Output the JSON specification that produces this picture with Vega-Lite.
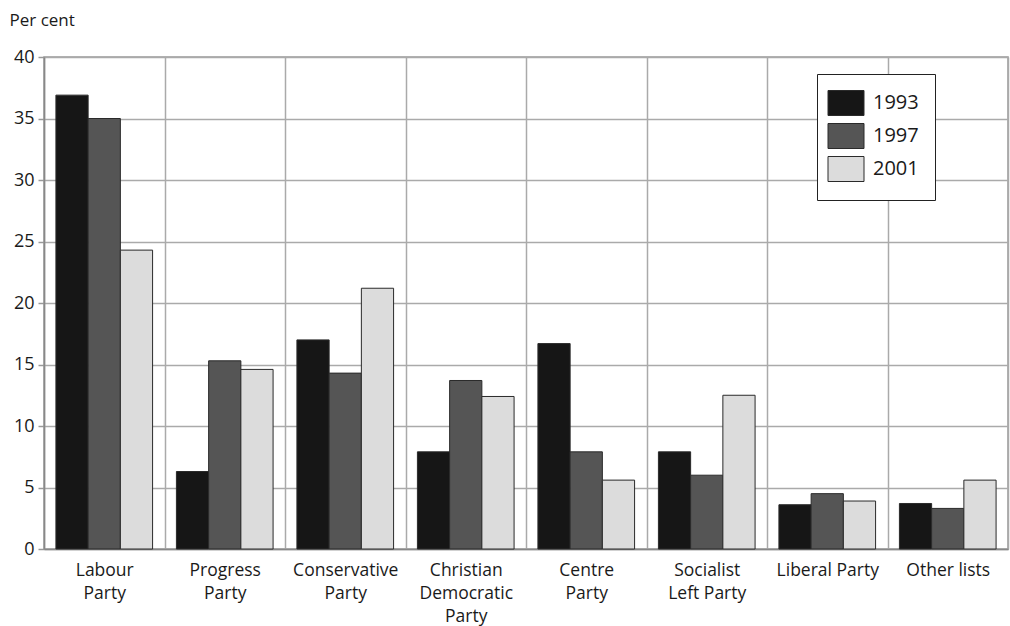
{
  "$schema": "https://vega.github.io/schema/vega-lite/v6.json",
  "autosize": "none",
  "width": 964,
  "height": 492,
  "padding": {"left": 44, "top": 57, "right": 2, "bottom": 77},
  "background": "white",
  "config": {
    "font": "Open Sans",
    "view": {"stroke": "#999999", "strokeWidth": 1.5}
  },
  "data": {
    "values": [
      {"party": "Labour Party", "year": "1993", "pct": 36.9},
      {"party": "Labour Party", "year": "1997", "pct": 35.0},
      {"party": "Labour Party", "year": "2001", "pct": 24.3},
      {"party": "Progress Party", "year": "1993", "pct": 6.3},
      {"party": "Progress Party", "year": "1997", "pct": 15.3},
      {"party": "Progress Party", "year": "2001", "pct": 14.6},
      {"party": "Conservative Party", "year": "1993", "pct": 17.0},
      {"party": "Conservative Party", "year": "1997", "pct": 14.3},
      {"party": "Conservative Party", "year": "2001", "pct": 21.2},
      {"party": "Christian Democratic Party", "year": "1993", "pct": 7.9},
      {"party": "Christian Democratic Party", "year": "1997", "pct": 13.7},
      {"party": "Christian Democratic Party", "year": "2001", "pct": 12.4},
      {"party": "Centre Party", "year": "1993", "pct": 16.7},
      {"party": "Centre Party", "year": "1997", "pct": 7.9},
      {"party": "Centre Party", "year": "2001", "pct": 5.6},
      {"party": "Socialist Left Party", "year": "1993", "pct": 7.9},
      {"party": "Socialist Left Party", "year": "1997", "pct": 6.0},
      {"party": "Socialist Left Party", "year": "2001", "pct": 12.5},
      {"party": "Liberal Party", "year": "1993", "pct": 3.6},
      {"party": "Liberal Party", "year": "1997", "pct": 4.5},
      {"party": "Liberal Party", "year": "2001", "pct": 3.9},
      {"party": "Other lists", "year": "1993", "pct": 3.7},
      {"party": "Other lists", "year": "1997", "pct": 3.3},
      {"party": "Other lists", "year": "2001", "pct": 5.6}
    ]
  },
  "mark": {"type": "bar", "stroke": "#2a2a2a", "strokeWidth": 1},
  "encoding": {
    "x": {
      "field": "party",
      "type": "nominal",
      "sort": null,
      "scale": {"paddingInner": 0, "paddingOuter": 0},
      "axis": {
        "title": null,
        "labelAngle": 0,
        "labelFontSize": 17.5,
        "labelColor": "#1a1a1a",
        "labelPadding": 12,
        "labelLineHeight": 23,
        "labelBaseline": "top",
        "labelLimit": 200,
        "labelExpr": "datum.label == 'Christian Democratic Party' ? ['Christian','Democratic','Party'] : datum.label == 'Socialist Left Party' ? ['Socialist','Left Party'] : (datum.label == 'Liberal Party' || datum.label == 'Other lists') ? datum.label : split(datum.label, ' ')",
        "ticks": false,
        "tickBand": "extent",
        "grid": true,
        "gridColor": "#aaaaaa",
        "gridWidth": 1.5,
        "domainColor": "#888888",
        "domainWidth": 1.5
      }
    },
    "xOffset": {
      "field": "year",
      "type": "nominal",
      "scale": {"paddingInner": 0, "paddingOuter": 0.37}
    },
    "y": {
      "field": "pct",
      "type": "quantitative",
      "scale": {"domain": [0, 40]},
      "axis": {
        "title": "Per cent",
        "titleAngle": 0,
        "titleX": -35,
        "titleY": -45,
        "titleAlign": "left",
        "titleBaseline": "top",
        "titleFontSize": 17,
        "titleFontWeight": "normal",
        "titleColor": "#1a1a1a",
        "values": [0, 5, 10, 15, 20, 25, 30, 35, 40],
        "labelFontSize": 18,
        "labelColor": "#1a1a1a",
        "labelPadding": 4,
        "tickSize": 6,
        "tickColor": "#999999",
        "tickWidth": 1.5,
        "grid": true,
        "gridColor": "#aaaaaa",
        "gridWidth": 1.5,
        "domainColor": "#888888",
        "domainWidth": 1.5
      }
    },
    "fill": {
      "field": "year",
      "type": "nominal",
      "scale": {"domain": ["1993", "1997", "2001"], "range": ["#161616", "#555555", "#dcdcdc"]},
      "legend": {
        "title": null,
        "orient": "none",
        "legendX": 773,
        "legendY": 17,
        "padding": 16,
        "fillColor": "white",
        "strokeColor": "#222222",
        "symbolType": "M-1.44,-1H1.44V1H-1.44Z",
        "symbolSize": 625,
        "symbolStrokeColor": "#2a2a2a",
        "symbolStrokeWidth": 1,
        "symbolOpacity": 1,
        "labelFontSize": 20,
        "labelColor": "#1a1a1a",
        "labelOffset": 14,
        "rowPadding": 3,
        "offset": 0
      }
    }
  }
}
